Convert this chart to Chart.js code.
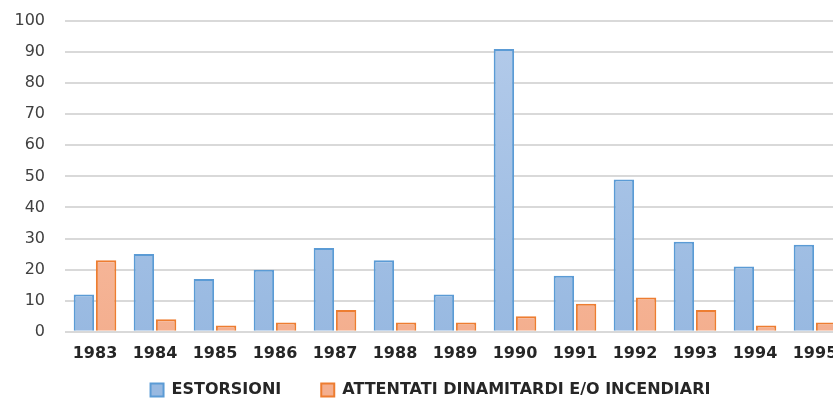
<!DOCTYPE html>
<html>
<head>
<meta charset="utf-8">
<script src="https://cdn.jsdelivr.net/npm/chart.js@4/dist/chart.umd.min.js"></script>
<style>
html,body{margin:0;padding:0;background:#fff;overflow:hidden;width:833px;height:398px;}
#wrap{position:absolute;left:0;top:0;width:862px;height:398px;}
</style>
</head>
<body>
<div id="wrap"><canvas id="c"></canvas></div>
<script>
const categories = ['1983','1984','1985','1986','1987','1988','1989','1990','1991','1992','1993','1994','1995'];
const estorsioni = [12, 25, 17, 20, 27, 23, 12, 91, 18, 49, 29, 21, 28];
const attentati = [23, 4, 2, 3, 7, 3, 3, 5, 9, 11, 7, 2, 3];
const seriesNames = ['ESTORSIONI', 'ATTENTATI DINAMITARDI E/O INCENDIARI'];

function grad(ctx, top, bottom) {
  const chart = ctx.chart;
  const a = chart.chartArea;
  if (!a) return bottom;
  const g = chart.ctx.createLinearGradient(0, a.top, 0, a.bottom);
  g.addColorStop(0, top);
  g.addColorStop(1, bottom);
  return g;
}

const LEG_PAD = 40;
const LEG_H = 23;
const LEG_SHIFT_Y = -33;
const LEG_SHIFT_X = 8;

const chart = new Chart(document.getElementById('c'), {
  type: 'bar',
  data: {
    labels: categories,
    datasets: [
      {
        label: seriesNames[0],
        data: estorsioni,
        backgroundColor: c => grad(c, '#b4cbea', '#98b9e1'),
        borderColor: '#5b9bd5',
        borderWidth: 2,
        barPercentage: 0.92,
        categoryPercentage: 0.74
      },
      {
        label: seriesNames[1],
        data: attentati,
        backgroundColor: c => grad(c, '#f9c7b1', '#f4af8f'),
        borderColor: '#ed7d31',
        borderWidth: 2,
        barPercentage: 0.92,
        categoryPercentage: 0.74
      }
    ]
  },
  options: {
    responsive: true,
    maintainAspectRatio: false,
    animation: false,
    layout: { padding: { top: 21, right: 17, left: 0, bottom: 0 } },
    plugins: {
      tooltip: { enabled: false },
      legend: {
        position: 'bottom',
        labels: {
          boxWidth: 13,
          boxHeight: 13,
          padding: LEG_PAD,
          color: '#262626',
          font: { family: 'DejaVu Sans', size: 16, weight: 'bold' }
        }
      }
    },
    scales: {
      x: {
        grid: { display: false, drawTicks: false },
        border: { display: false },
        ticks: {
          color: '#262626',
          padding: 12,
          font: { family: 'DejaVu Sans', size: 16, weight: 'bold' },
          maxRotation: 0,
          autoSkip: false
        }
      },
      y: {
        min: 0,
        max: 100,
        afterFit: s => { s.width = 65; s.paddingTop = 0; },
        grid: { color: '#d9d9d9', lineWidth: 2, drawTicks: false },
        border: { display: false },
        ticks: {
          stepSize: 10,
          color: '#404040',
          padding: 20,
          font: { family: 'DejaVu Sans', size: 16 }
        }
      }
    }
  }
});

const legend = chart.legend;
const origFit = legend.fit;
legend.fit = function () {
  origFit.call(this);
  this.height = LEG_H;
};
legend.draw = function () {
  if (!this.options.display) return;
  const ctx = this.ctx;
  ctx.save();
  ctx.translate(LEG_SHIFT_X, LEG_SHIFT_Y);
  this._draw();
  ctx.restore();
};
chart.update();
</script>
</body>
</html>
